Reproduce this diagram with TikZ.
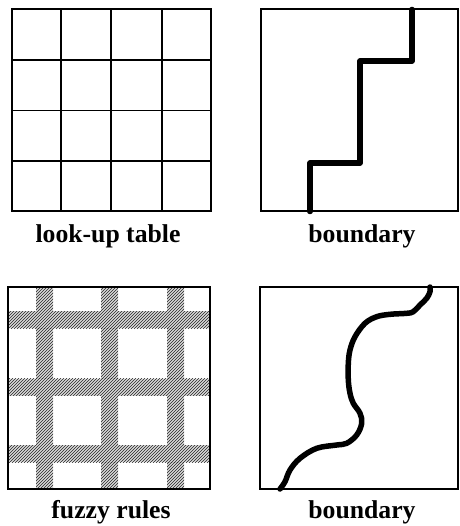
\documentclass[tikz,border=0pt]{standalone}
\usepackage{fontspec}
\setmainfont{Liberation Serif}
\usetikzlibrary{patterns}

\tikzset{
    frame/.style={black, line width=2pt},
    gridline/.style={black, line width=1.2pt},
    band/.style={fill=gray!30, postaction={pattern=north east lines, pattern color=black!85}},
    bound/.style={black, line width=5.5pt, line cap=round, line join=round},
    caption/.style={anchor=base, font=\fontsize{25.7}{30}\selectfont\bfseries}
}

\begin{document}
\begin{tikzpicture}[x=1pt, y=-1pt]
        \useasboundingbox (0,0) rectangle (459,526);

        % --- 1. Look-up Table (top left) ---
        \foreach \t in {61, 111, 162} {
            \draw[gridline] (\t, 9.5) -- (\t, 211.5);
        }
        \foreach \t in {60, 110.5, 161} {
            \draw[gridline] (11.5, \t) -- (211, \t);
        }
        \draw[frame] (11.5, 9.5) rectangle (211, 211.5);
        \node[caption] (lut) at (108, 242) {look-up table};

        % --- 2. Staircase Boundary (top right) ---
        \draw[frame] (261, 9.5) rectangle (458, 211.5);
        \coordinate (stair_start) at (310, 211.5);
        \coordinate (stair_end) at (412, 9.5);
        \draw[bound] (stair_start) |- (360, 163) |- (412, 61) -- (stair_end);
        \node[caption] (bd_top) at (362, 242) {boundary};

        % --- 3. Fuzzy Rules (bottom left) ---
        % Overlapping hatched bands
        \foreach \c in {44.5, 109.5, 175.5} {
            \path[band] (\c-8.5, 287) rectangle (\c+8.5, 489);
        }
        \foreach \c in {319.5, 387, 453.5} {
            \path[band] (8, \c-8.5) rectangle (209.5, \c+8.5);
        }
        \draw[frame] (8, 287) rectangle (209.5, 489);
        \node[caption] (fz) at (111, 518) {fuzzy rules};

        % --- 4. Smooth Boundary (bottom right) ---
        \draw[frame] (260, 287) rectangle (458, 489);
        \draw[bound] plot[smooth, tension=0.6] coordinates {
            (280, 489) (285, 481.7) (290, 470) (300, 458.3) (316.7, 448.3)
            (336.7, 445) (346.7, 443.3) (356.7, 435) (361.7, 423.3) (360, 413.3)
            (353.3, 403.3) (350, 393.3) (348.3, 380) (348.3, 363.3) (350, 350)
            (355, 336.7) (365, 323.3) (376.7, 316.7) (390, 314.3) (406.7, 313.3)
            (413.3, 311.7) (420, 305) (426.7, 298.3) (430, 291.7) (430, 287)
        };
        \node[caption] (bd_bot) at (362, 518) {boundary};

\end{tikzpicture}
\end{document}
